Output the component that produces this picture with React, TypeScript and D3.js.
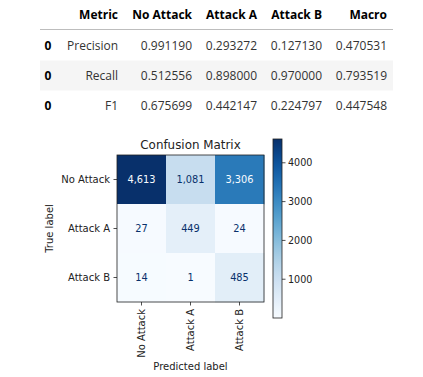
import React from "react";
import * as d3 from "d3";

const columns = ["Metric", "No Attack", "Attack A", "Attack B", "Macro"];
const metricNames = ["Precision", "Recall", "F1"];
const noAttackScores = ["0.991190", "0.512556", "0.675699"];
const attackAScores = ["0.293272", "0.898000", "0.442147"];
const attackBScores = ["0.127130", "0.970000", "0.224797"];
const macroScores = ["0.470531", "0.793519", "0.447548"];

const classLabels = ["No Attack", "Attack A", "Attack B"];
const matrixNoAttack = [4613, 1081, 3306];
const matrixAttackA = [27, 449, 24];
const matrixAttackB = [14, 1, 485];
const colorbarTicks = [1000, 2000, 3000, 4000];

export default function App() {
  const W = 423, H = 377;
  const tableFont = "'Open Sans', sans-serif";
  const plotFont = "'DejaVu Sans', sans-serif";

  // table
  const colRights = [118, 192, 257, 322, 387];
  const rowY = d3.scaleBand<number>().domain([0, 1, 2]).range([30, 120]);
  const scoreCols = [metricNames, noAttackScores, attackAScores, attackBScores, macroScores];

  // matrix
  const matrix = [matrixNoAttack, matrixAttackA, matrixAttackB];
  const flat = matrix.flat();
  const vmin = d3.min(flat)!, vmax = d3.max(flat)!;
  const x = d3.scaleBand<string>().domain(classLabels).range([117, 264]);
  const y = d3.scaleBand<string>().domain(classLabels).range([155, 302]);
  const color = d3.scaleSequential(d3.interpolateBlues).domain([vmin, vmax]);
  const thresh = (vmin + vmax) / 2;
  const cb = { x: 273, w: 9, top: 139, bottom: 318 };
  const cbScale = d3.scaleLinear().domain([vmin, vmax]).range([cb.bottom, cb.top]);
  const gradStops = d3.range(0, 1.0001, 0.05);
  const fmt = d3.format(",");
  const fs = 10;

  return (
    <svg width={W} height={H} style={{ position: "absolute", left: 0, top: 0, background: "#fff" }}>
      <rect width={W} height={H} fill="#fff" />
      {/* table header */}
      <g fontFamily={tableFont} fontSize={12}>
        {columns.map((c, i) => (
          <text key={c} x={colRights[i]} y={19} textAnchor="end" fontWeight="bold" fill="#000">{c}</text>
        ))}
        <line x1={40} x2={393} y1={29.5} y2={29.5} stroke="#bdbdbd" strokeWidth={1} />
        {[0, 1, 2].map((r) => (
          <g key={r}>
            {r === 1 && <rect x={40} y={rowY(r)! + 0.5} width={353} height={rowY.bandwidth()} fill="#f5f5f5" />}
            <text x={48} y={rowY(r)! + rowY.bandwidth() / 2 + 4.5} textAnchor="middle" fontWeight="bold" fill="#000">0</text>
            {scoreCols.map((col, ci) => (
              <text key={ci} x={colRights[ci]} y={rowY(r)! + rowY.bandwidth() / 2 + 4.5} textAnchor="end" fill="#333">{col[r]}</text>
            ))}
          </g>
        ))}
      </g>

      {/* confusion matrix */}
      <g fontFamily={plotFont} fontSize={fs}>
        <text x={190.5} y={149} textAnchor="middle" fontSize={11.9} fill="#222">Confusion Matrix</text>
        {matrix.map((row, ri) =>
          row.map((v, ci) => (
            <g key={`${ri}-${ci}`}>
              <rect x={x(classLabels[ci])} y={y(classLabels[ri])} width={x.bandwidth() + 0.5} height={y.bandwidth() + 0.5} fill={color(v)} />
              <text x={x(classLabels[ci])! + x.bandwidth() / 2} y={y(classLabels[ri])! + y.bandwidth() / 2 + 3.5} textAnchor="middle"
                fontSize={9.8}
                fill={v > thresh ? d3.interpolateBlues(0) : d3.interpolateBlues(1)}>{fmt(v)}</text>
            </g>
          ))
        )}
        <rect x={117} y={155} width={147} height={147} fill="none" stroke="#222" strokeWidth={0.8} />
        {classLabels.map((c) => (
          <g key={"y" + c}>
            <line x1={113.5} x2={117} y1={y(c)! + y.bandwidth() / 2} y2={y(c)! + y.bandwidth() / 2} stroke="#222" strokeWidth={0.8} />
            <text x={110} y={y(c)! + y.bandwidth() / 2 + 3.6} textAnchor="end" fill="#222">{c}</text>
          </g>
        ))}
        {classLabels.map((c) => {
          const cx = x(c)! + x.bandwidth() / 2;
          return (
            <g key={"x" + c}>
              <line x1={cx} x2={cx} y1={302} y2={305.5} stroke="#222" strokeWidth={0.8} />
              <text transform={`translate(${cx + 3.6},309) rotate(-90)`} textAnchor="end" fill="#222">{c}</text>
            </g>
          );
        })}
        <text transform={`translate(53,228.5) rotate(-90)`} textAnchor="middle" fill="#222">True label</text>
        <text x={190.5} y={370} textAnchor="middle" fill="#222">Predicted label</text>

        {/* colorbar */}
        <defs>
          <linearGradient id="cbgrad" x1="0" y1="1" x2="0" y2="0">
            {gradStops.map((t) => (
              <stop key={t} offset={t} stopColor={d3.interpolateBlues(t)} />
            ))}
          </linearGradient>
        </defs>
        <rect x={cb.x} y={cb.top} width={cb.w} height={cb.bottom - cb.top} fill="url(#cbgrad)" stroke="#222" strokeWidth={0.8} />
        {colorbarTicks.map((t) => (
          <g key={t}>
            <line x1={cb.x + cb.w} x2={cb.x + cb.w + 3.5} y1={cbScale(t)} y2={cbScale(t)} stroke="#222" strokeWidth={0.8} />
            <text x={cb.x + cb.w + 6} y={cbScale(t) + 3.5} fontSize={9.6} fill="#222">{t}</text>
          </g>
        ))}
      </g>
    </svg>
  );
}
